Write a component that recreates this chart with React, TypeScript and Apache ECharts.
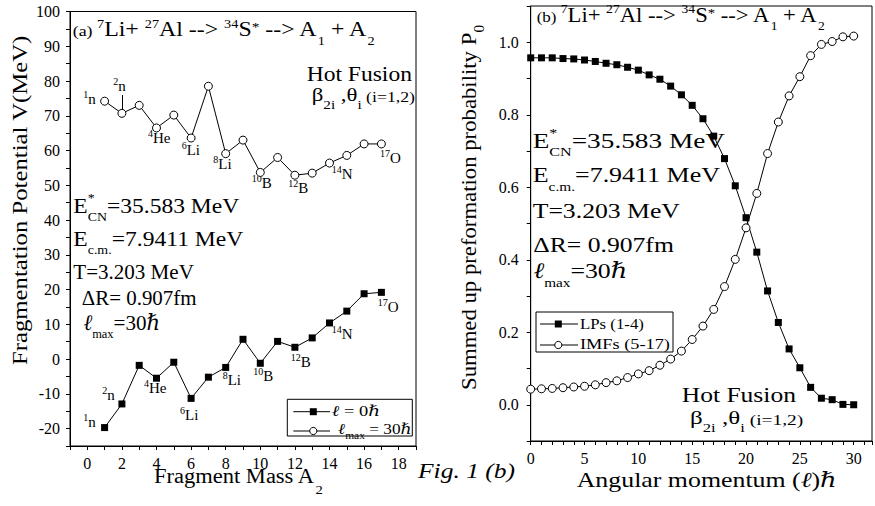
import React, { useEffect, useRef } from 'react';
import * as echarts from 'echarts';

// ---------- data ----------
const massA = [1, 2, 3, 4, 5, 6, 7, 8, 9, 10, 11, 12, 13, 14, 15, 16, 17];
const potentialL0 = [-19.7, -12.9, -1.8, -5.5, -0.9, -11.3, -5.2, -2.4, 5.7, -1.2, 5.1, 3.4, 6.1, 10.4, 13.8, 18.8, 19.2];
const potentialLmax = [74.2, 70.7, 73.0, 66.5, 70.2, 63.6, 78.5, 59.1, 63.0, 53.7, 58.0, 52.9, 53.5, 56.4, 58.6, 61.9, 61.9];

const ellValues = [0, 1, 2, 3, 4, 5, 6, 7, 8, 9, 10, 11, 12, 13, 14, 15, 16, 17, 18, 19, 20, 21, 22, 23, 24, 25, 26, 27, 28, 29, 30];
const lpsP0 = [0.957, 0.957, 0.957, 0.955, 0.954, 0.951, 0.947, 0.942, 0.938, 0.931, 0.923, 0.910, 0.898, 0.879, 0.855, 0.826, 0.789, 0.741, 0.679, 0.604, 0.516, 0.421, 0.314, 0.227, 0.154, 0.102, 0.048, 0.018, 0.014, 0.001, 0.0];
const imfsP0 = [0.043, 0.044, 0.045, 0.047, 0.049, 0.051, 0.055, 0.061, 0.066, 0.075, 0.085, 0.094, 0.109, 0.126, 0.148, 0.180, 0.217, 0.263, 0.326, 0.401, 0.488, 0.583, 0.693, 0.780, 0.852, 0.905, 0.963, 0.994, 1.002, 1.015, 1.017];

const fragUpper: [string, string][] = [['1', 'n'], ['2', 'n'], ['4', 'He'], ['6', 'Li'], ['8', 'Li'], ['10', 'B'], ['12', 'B'], ['14', 'N'], ['17', 'O']];
const fragLower: [string, string][] = [['1', 'n'], ['2', 'n'], ['4', 'He'], ['6', 'Li'], ['8', 'Li'], ['10', 'B'], ['12', 'B'], ['14', 'N'], ['17', 'O']];

// ---------- text helpers ----------
const SERIF = 'Liberation Serif, DejaVu Serif, serif';
const CENTRAL = 0.3375;

type Piece = { t: string; fs: number; dy: number; it: boolean; na: boolean };
const pc = (t: string, fs: number, dy = 0, it = false, na = false): Piece => ({ t, fs, dy, it, na });

let mctx: CanvasRenderingContext2D | null = null;
function measure(p: Piece): number {
  if (!mctx) mctx = document.createElement('canvas').getContext('2d');
  if (!mctx) return p.t.length * p.fs * 0.5;
  mctx.font = `${p.it ? 'italic ' : ''}${p.fs}px ${SERIF}`;
  return mctx.measureText(p.t).width;
}

function run(x: number, y: number, pieces: Piece[], w?: number, rotation = 0, z = 1): any {
  let cx = 0;
  const children: any[] = [];
  for (const p of pieces) {
    children.push({
      type: 'text',
      x: cx,
      y: p.dy - CENTRAL * p.fs,
      z,
      silent: true,
      style: {
        text: p.t,
        fontSize: p.fs,
        fontFamily: SERIF,
        fontStyle: p.it ? 'italic' : 'normal',
        fill: '#000',
        align: 'left',
        verticalAlign: 'middle',
        textAlign: 'left',
        textVerticalAlign: 'middle',
      },
    });
    if (!p.na) cx += measure(p);
  }
  const sx = w ? w / cx : 1;
  return { type: 'group', x, y, rotation, scaleX: sx, children };
}

const frag = (x: number, y: number, m: string, el: string) => run(x, y, [pc(m, 10, -6), pc(el, 15)]);

function titlePieces(tag: string): Piece[] {
  return [
    pc(tag + ' ', 15), pc('7', 12, -8), pc('Li+ ', 20), pc('27', 12, -8), pc('Al --> ', 20),
    pc('34', 12, -8), pc('S', 20), pc('*', 13, -5), pc(' --> A', 20), pc('1', 12, 9),
    pc(' + A', 20), pc('2', 12, 9),
  ];
}
const betaPieces = (): Piece[] => [pc('β', 18), pc('2i', 12, 8), pc(' ,θ', 18), pc('i', 12, 8), pc(' (i=1,2)', 14, 1)];

function infoBlock(x: number, ys: number[], ws: number[], subDy: number): any[] {
  return [
    run(x, ys[0], [pc('E', 22), pc('*', 13, -11, false, true), pc('CN', 13, 8), pc('=35.583 MeV', 22)], ws[0]),
    run(x, ys[1], [pc('E', 22), pc('c.m.', 13, subDy), pc('=7.9411 MeV', 22)], ws[1]),
    run(x, ys[2], [pc('T=3.203 MeV', 22)], ws[2]),
    run(x + ws[5], ys[3], [pc('ΔR= 0.907fm', 22)], ws[3]),
    run(x + ws[5] * 1.2, ys[4], [pc('ℓ', 22, 0, true), pc('max', 13, subDy), pc('=30', 22), pc('ℏ', 22, 0, true)], ws[4]),
  ];
}

function buildGraphics(): any[] {
  const g: any[] = [];
  // titles
  g.push(run(72.7, 35.7, titlePieces('(a)'), 302));
  g.push(run(536.7, 21.7, titlePieces('(b)'), 288));
  // hot fusion
  g.push(run(306.7, 81.7, [pc('Hot Fusion', 20)], 105.3));
  g.push(run(311.7, 101, betaPieces(), 103.3));
  g.push(run(681.7, 401.7, [pc('Hot Fusion', 21)], 114.3));
  g.push(run(690, 424, betaPieces(), 113.3));
  // info blocks
  g.push(...infoBlock(73.3, [213.3, 246, 279.3, 305.7, 330.7], [166, 170, 120.7, 115, 76.7, 8.4], 8));
  g.push(...infoBlock(532.7, [148.3, 181.7, 218.3, 251.7, 278.3], [192.3, 187.3, 147.3, 140.6, 94, 0.6], 9));
  // fragment labels (upper curve)
  const upPos = [[83.3, 104.3], [113.3, 90.7], [148, 143.3], [181.7, 155], [213.3, 169.3], [251.7, 188.3], [288.3, 193.3], [331.7, 179], [380, 163.3]];
  fragUpper.forEach((f, i) => g.push(frag(upPos[i][0], upPos[i][1], f[0], f[1])));
  g.push({ type: 'line', silent: true, shape: { x1: 122.5, y1: 95, x2: 122.5, y2: 112 }, style: { stroke: '#000', lineWidth: 1 } });
  const loPos = [[83.3, 426.7], [102.3, 400], [144, 393.3], [180, 420], [222.7, 385], [253.3, 381], [290.7, 367.3], [331.7, 339], [377.7, 311.7]];
  fragLower.forEach((f, i) => g.push(frag(loPos[i][0], loPos[i][1], f[0], f[1])));
  // axis titles
  g.push(run(154, 483.3, [pc('Fragment Mass A', 20), pc('2', 13, 11)], 168.7));
  g.push(run(26.7, 365, [pc('Fragmentation Potential V(MeV)', 22)], 330, Math.PI / 2));
  g.push(run(576.7, 486.7, [pc('Angular momentum (', 21), pc('ℓ', 21, 0, true), pc(')', 21), pc('ℏ', 21, 0, true)], 260));
  g.push(run(476, 390, [pc('Summed up preformation probability P', 21), pc('0', 14, 8)], 365, Math.PI / 2));
  g.push(run(418, 478.3, [pc('Fig. 1 (b)', 20, 0, true)], 97));
  // legend (a)
  g.push({ type: 'rect', silent: true, z: 5, shape: { x: 287.3, y: 399.3, width: 125, height: 36.7 }, style: { fill: '#fff', stroke: '#000', lineWidth: 1 } });
  g.push({ type: 'line', silent: true, z: 6, shape: { x1: 293.3, y1: 411.7, x2: 330, y2: 411.7 }, style: { stroke: '#000', lineWidth: 1 } });
  g.push({ type: 'rect', silent: true, z: 7, shape: { x: 309.8, y: 408.2, width: 7, height: 7 }, style: { fill: '#000' } });
  g.push(run(331.7, 416.5, [pc('ℓ', 15, 0, true), pc(' = 0', 15), pc('ℏ', 15, 0, true)], 48.3, 0, 7));
  g.push({ type: 'line', silent: true, z: 6, shape: { x1: 293.3, y1: 431, x2: 330, y2: 431 }, style: { stroke: '#000', lineWidth: 1 } });
  g.push({ type: 'circle', silent: true, z: 7, shape: { cx: 313.3, cy: 431, r: 3.6 }, style: { fill: '#fff', stroke: '#000', lineWidth: 1 } });
  g.push(run(338, 434, [pc('ℓ', 15, 0, true), pc('max', 10, 5), pc(' = 30', 15), pc('ℏ', 15, 0, true)], 73.7, 0, 7));
  // legend (b)
  g.push({ type: 'rect', silent: true, z: 5, shape: { x: 536, y: 312, width: 137, height: 40 }, style: { fill: '#fff', stroke: '#000', lineWidth: 1 } });
  g.push({ type: 'line', silent: true, z: 6, shape: { x1: 540, y1: 324, x2: 578, y2: 324 }, style: { stroke: '#000', lineWidth: 1 } });
  g.push({ type: 'rect', silent: true, z: 7, shape: { x: 554.8, y: 320.5, width: 7, height: 7 }, style: { fill: '#000' } });
  g.push(run(580, 328.5, [pc('LPs (1-4)', 15)], 64, 0, 7));
  g.push({ type: 'line', silent: true, z: 6, shape: { x1: 540, y1: 345, x2: 578, y2: 345 }, style: { stroke: '#000', lineWidth: 1 } });
  g.push({ type: 'circle', silent: true, z: 7, shape: { cx: 558.3, cy: 345, r: 3.6 }, style: { fill: '#fff', stroke: '#000', lineWidth: 1 } });
  g.push(run(580, 349.5, [pc('IMFs (5-17)', 15)], 90, 0, 7));
  return g;
}

// ---------- axes ----------
const axisLine = { show: true, onZero: false, lineStyle: { color: '#000', width: 1 } };
const axisTick = { show: true, inside: false, length: 4, lineStyle: { color: '#000', width: 1 } };
const labelBase = { color: '#000', fontFamily: SERIF, fontSize: 16 };

function buildOption(): any {
  const squares = { symbol: 'rect', symbolSize: 7, itemStyle: { color: '#000' }, lineStyle: { color: '#000', width: 1 } };
  const circles = { symbol: 'circle', symbolSize: 8, itemStyle: { color: '#fff', borderColor: '#000', borderWidth: 1 }, lineStyle: { color: '#000', width: 1 } };
  return {
    animation: false,
    backgroundColor: '#fff',
    textStyle: { fontFamily: SERIF },
    grid: [
      { left: 70, top: 11.5, width: 346, height: 434.5, show: true, borderColor: '#000', borderWidth: 1, backgroundColor: 'transparent' },
      { left: 530.7, top: 6, width: 343.5, height: 435, show: true, borderColor: '#000', borderWidth: 1, backgroundColor: 'transparent' },
    ],
    xAxis: [
      {
        type: 'value', gridIndex: 0, min: -1, max: 19, interval: 1, axisLine, axisTick, splitLine: { show: false },
        axisLabel: { ...labelBase, margin: 9, formatter: (v: number) => { const r = Math.round(v); return r >= 0 && r % 2 === 0 && r <= 18 ? String(r) : ''; } },
      },
      {
        type: 'value', gridIndex: 1, min: 0, max: 31.7, interval: 1, axisLine, axisTick, splitLine: { show: false },
        axisLabel: { ...labelBase, margin: 9, formatter: (v: number) => { const r = Math.round(v); return Math.abs(v - r) < 1e-6 && r % 5 === 0 ? String(r) : ''; } },
      },
    ],
    yAxis: [
      {
        type: 'value', gridIndex: 0, min: -25, max: 100, interval: 5, axisLine, axisTick, splitLine: { show: false },
        axisLabel: { ...labelBase, margin: 10, formatter: (v: number) => { const r = Math.round(v); return r % 10 === 0 ? String(r) : ''; } },
      },
      {
        type: 'value', gridIndex: 1, min: -0.1, max: 1.1, interval: 0.1, axisLine, axisTick, splitLine: { show: false },
        axisLabel: { ...labelBase, margin: 12, formatter: (v: number) => { const k = Math.round(v * 10); return k >= 0 && k <= 10 && k % 2 === 0 ? (k / 10).toFixed(1) : ''; } },
      },
    ],
    series: [
      { type: 'line', name: 'ℓ = 0ℏ', xAxisIndex: 0, yAxisIndex: 0, data: massA.map((a, i) => [a, potentialL0[i]]), ...squares },
      { type: 'line', name: 'ℓmax = 30ℏ', xAxisIndex: 0, yAxisIndex: 0, data: massA.map((a, i) => [a, potentialLmax[i]]), ...circles },
      { type: 'line', name: 'LPs (1-4)', xAxisIndex: 1, yAxisIndex: 1, data: ellValues.map((l, i) => [l, lpsP0[i]]), ...squares },
      { type: 'line', name: 'IMFs (5-17)', xAxisIndex: 1, yAxisIndex: 1, data: ellValues.map((l, i) => [l, imfsP0[i]]), ...circles },
    ],
    graphic: buildGraphics(),
  };
}

export default function App() {
  const ref = useRef<HTMLDivElement>(null);
  useEffect(() => {
    if (!ref.current) return;
    const chart = echarts.init(ref.current, null, { renderer: 'svg' });
    chart.setOption(buildOption());
    return () => chart.dispose();
  }, []);
  return <div ref={ref} style={{ position: 'absolute', left: 0, top: 0, width: 875, height: 506, background: '#fff' }} />;
}
